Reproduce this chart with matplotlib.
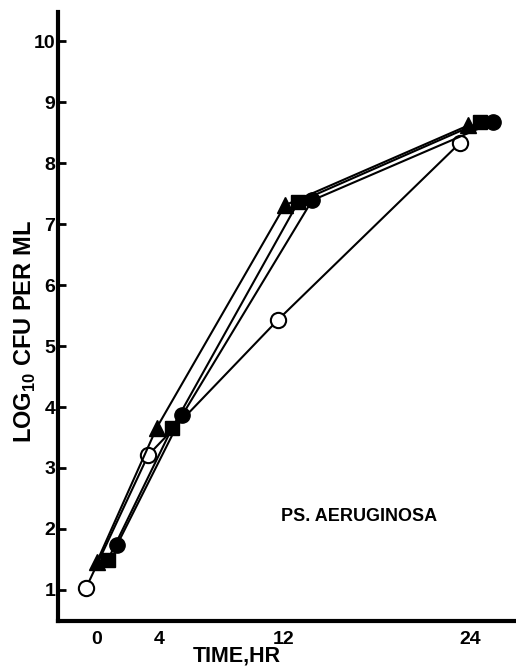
import matplotlib
matplotlib.use('Agg')
import matplotlib.pyplot as plt

plt.rcParams['font.family'] = ['Liberation Sans', 'DejaVu Sans']
plt.rcParams['font.weight'] = 'bold'
plt.rcParams['mathtext.fontset'] = 'custom'
plt.rcParams['mathtext.bf'] = 'Liberation Sans:bold'
plt.rcParams['mathtext.rm'] = 'Liberation Sans:bold'

# Data (time in hours, log10 CFU/ml)
open_x = [-0.7, 3.3, 11.65, 23.35]
open_y = [1.03, 3.21, 5.43, 8.33]
tri_x = [0.0, 3.85, 12.1, 23.9]
tri_y = [1.46, 3.66, 7.31, 8.62]
sq_x = [0.7, 4.85, 12.95, 24.65]
sq_y = [1.49, 3.66, 7.36, 8.67]
circ_x = [1.3, 5.5, 13.85, 25.5]
circ_y = [1.74, 3.87, 7.39, 8.67]

xticks = [0, 4, 12, 24]
yticks = [1, 2, 3, 4, 5, 6, 7, 8, 9, 10]

fig = plt.figure(figsize=(5.16, 6.70), dpi=100)
ax = fig.add_axes([58/516, 49/670, (515-58)/516, (658-49)/670])

lw = 1.5
ax.plot(open_x, open_y, color='black', lw=lw, marker='o', ms=11,
        mfc='white', mec='black', mew=1.5, zorder=3)
ax.plot(tri_x, tri_y, color='black', lw=lw, marker='^', ms=12,
        mfc='black', mec='black', zorder=4)
ax.plot(sq_x, sq_y, color='black', lw=lw, marker='s', ms=10,
        mfc='black', mec='black', zorder=4)
ax.plot(circ_x, circ_y, color='black', lw=lw, marker='o', ms=11,
        mfc='black', mec='black', zorder=4)

ax.set_xlim(-2.5, 26.9)
ax.set_ylim(0.49, 10.48)

ax.spines['top'].set_visible(False)
ax.spines['right'].set_visible(False)
ax.spines['left'].set_linewidth(3)
ax.spines['bottom'].set_linewidth(3)

ax.set_xticks(xticks)
ax.set_xticklabels([str(v) for v in xticks], fontsize=14, fontweight='bold')
ax.set_yticks(yticks)
ax.set_yticklabels([str(v) for v in yticks], fontsize=14, fontweight='bold')
ax.tick_params(axis='x', length=0, pad=7)
ax.tick_params(axis='y', direction='in', length=6, width=2, pad=2)

ax.set_xlabel('TIME,HR', fontsize=15.5, fontweight='bold')
ax.xaxis.set_label_coords((237-58)/457, -0.041)

fig.text(25/516, 1 - 332/670, r'LOG$_{\mathbf{10}}$ CFU PER ML', rotation=90,
         ha='center', va='center', fontsize=17, fontweight='bold')

ax.text(16.9, 2.2, 'PS. AERUGINOSA', ha='center', va='center',
        fontsize=13, fontweight='bold')

fig.savefig('out.png', dpi=100)
